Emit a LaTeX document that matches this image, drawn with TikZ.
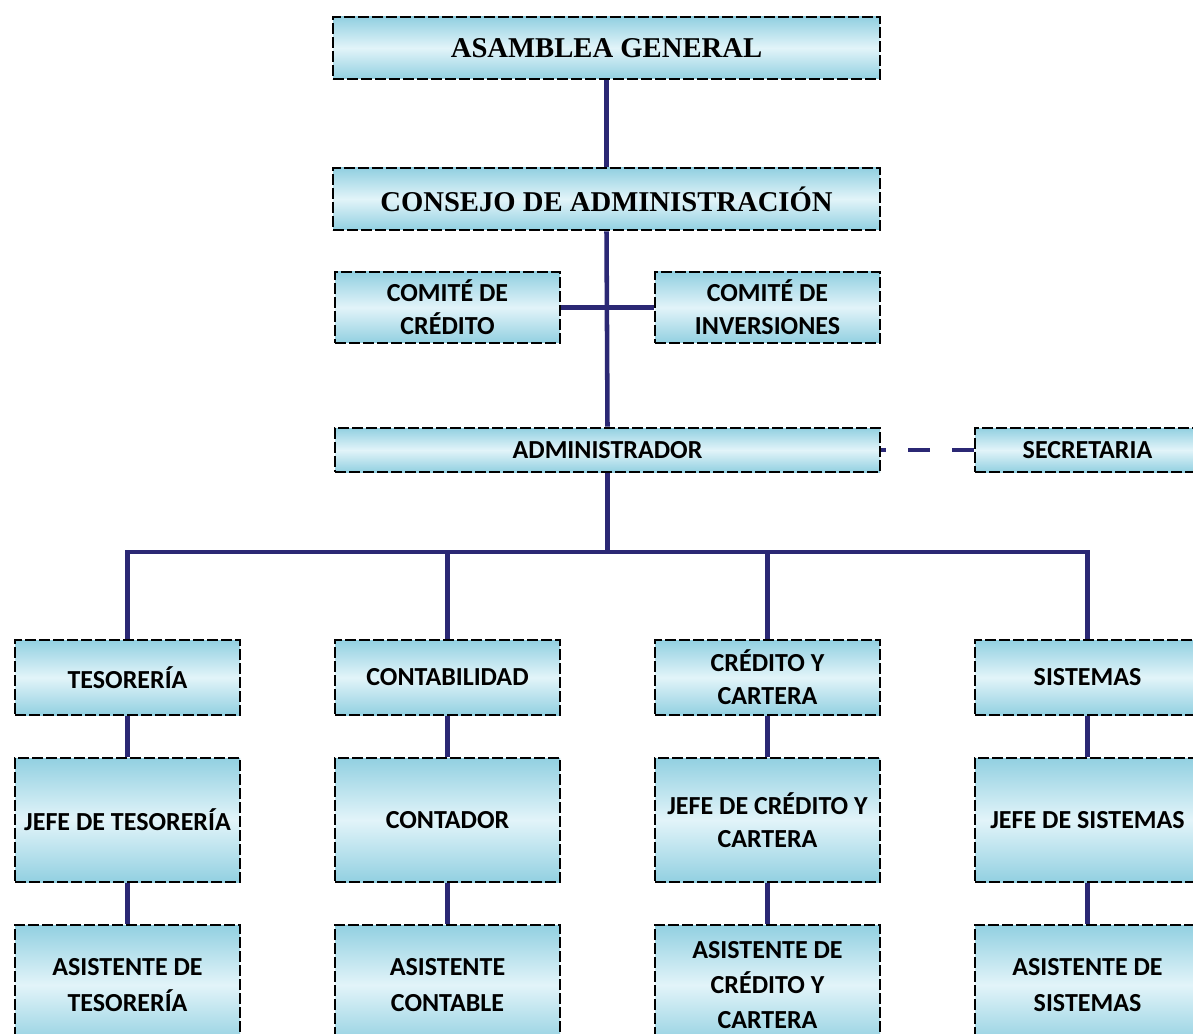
\documentclass[tikz,border=0pt]{standalone}
\usepackage{fontspec}
\setmainfont{Liberation Serif}
\newfontfamily\calfont{Carlito}
\definecolor{navy}{HTML}{2B2874}
\definecolor{boxedge}{HTML}{92D0E1}
\definecolor{boxmid}{HTML}{E2F4F9}
\begin{document}
\begin{tikzpicture}[x=0.75pt,y=-0.75pt,
  box/.style={draw=black, line width=2pt, dash pattern=on 8pt off 2.5pt,
    top color=boxedge, bottom color=boxedge, middle color=boxmid,
    align=center, inner sep=0pt, font=\calfont\bfseries\fontsize{19.5}{25}\selectfont},
  titlebox/.style={box, font=\bfseries\fontsize{21.5}{25}\selectfont},
  conn/.style={draw=navy, line width=3.4pt}]
\useasboundingbox (0,0) rectangle (1193,1034);
% top levels
\node[titlebox, minimum width=410.25pt, minimum height=46.5pt] (asam) at (606.5,48) {ASAMBLEA GENERAL};
\node[titlebox, minimum width=410.25pt, minimum height=46.5pt] (cons) at (606.5,199) {CONSEJO DE ADMINISTRACIÓN};
\node[box, minimum width=168.75pt, minimum height=53.25pt] (ccred) at (447.5,307.5) {COMITÉ DE\\CRÉDITO};
\node[box, minimum width=168.75pt, minimum height=53.25pt] (cinv) at (767.5,307.5) {COMITÉ DE\\INVERSIONES};
\node[box, minimum width=408.75pt, minimum height=33pt] (admin) at (607.5,450) {ADMINISTRADOR};
\node[box, minimum width=168.75pt, minimum height=33pt] (secr) at (1087.5,450) {SECRETARIA};
% departments
\node[box, minimum width=168.75pt, minimum height=56.25pt] (tes) at (127.5,677.5) {TESORERÍA};
\node[box, minimum width=168.75pt, minimum height=56.25pt] (cont) at (447.5,677.5) {CONTABILIDAD};
\node[box, minimum width=168.75pt, minimum height=56.25pt] (cred) at (767.5,677.5) {CRÉDITO Y\\CARTERA};
\node[box, minimum width=168.75pt, minimum height=56.25pt] (sist) at (1087.5,677.5) {SISTEMAS};
% heads
\node[box, minimum width=168.75pt, minimum height=93pt] (jtes) at (127.5,820) {JEFE DE TESORERÍA};
\node[box, minimum width=168.75pt, minimum height=93pt] (jcont) at (447.5,820) {CONTADOR};
\node[box, minimum width=168.75pt, minimum height=93pt] (jcred) at (767.5,820) {JEFE DE CRÉDITO Y\\CARTERA};
\node[box, minimum width=168.75pt, minimum height=93pt] (jsist) at (1087.5,820) {JEFE DE SISTEMAS};
% assistants
\node[box, minimum width=168.75pt, minimum height=90pt, font=\calfont\bfseries\fontsize{19.5}{26.5}\selectfont] (ates) at (127.5,985) {ASISTENTE DE\\TESORERÍA};
\node[box, minimum width=168.75pt, minimum height=90pt, font=\calfont\bfseries\fontsize{19.5}{26.5}\selectfont] (acont) at (447.5,985) {ASISTENTE\\CONTABLE};
\node[box, minimum width=168.75pt, minimum height=90pt, font=\calfont\bfseries\fontsize{19.5}{26.5}\selectfont] (acred) at (767.5,985) {ASISTENTE DE\\CRÉDITO Y\\CARTERA};
\node[box, minimum width=168.75pt, minimum height=90pt, font=\calfont\bfseries\fontsize{19.5}{26.5}\selectfont] (asist) at (1087.5,985) {ASISTENTE DE\\SISTEMAS};
% connectors
\coordinate (bus) at (0,552);
\draw[conn] (asam.south) -- (cons.north);
\draw[conn] (cons.south) -- (admin.north);
\draw[conn] (ccred.east) -- (cinv.west);
\draw[conn, dash pattern=on 16.5pt off 16.5pt] (secr.west) -- (admin.east);
\draw[conn] (admin.south) -- (admin.south |- bus);
\draw[conn] (tes.north) |- (sist.north |- bus) -- (sist.north);
\draw[conn] (cont.north) -- (cont.north |- bus);
\draw[conn] (cred.north) -- (cred.north |- bus);
\draw[conn] (tes.south) -- (jtes.north);
\draw[conn] (cont.south) -- (jcont.north);
\draw[conn] (cred.south) -- (jcred.north);
\draw[conn] (sist.south) -- (jsist.north);
\draw[conn] (jtes.south) -- (ates.north);
\draw[conn] (jcont.south) -- (acont.north);
\draw[conn] (jcred.south) -- (acred.north);
\draw[conn] (jsist.south) -- (asist.north);
\end{tikzpicture}
\end{document}
